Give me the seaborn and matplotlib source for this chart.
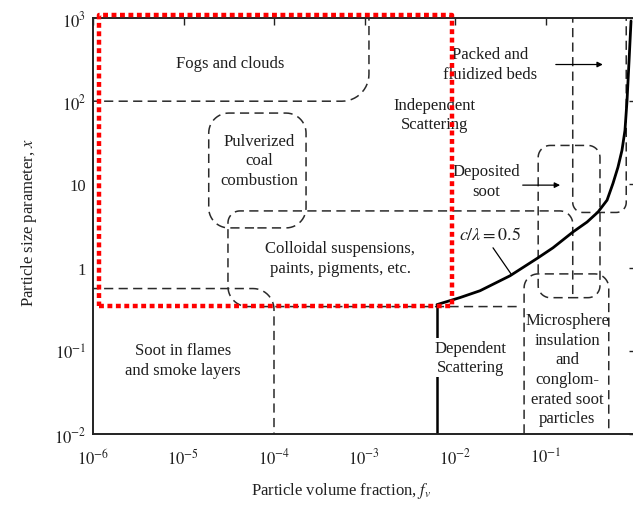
import numpy as np
import matplotlib
matplotlib.use("Agg")
import matplotlib.pyplot as plt
import seaborn as sns

# c/lambda = 0.5 boundary
curve_fv = [0.00632, 0.01135, 0.0189, 0.0406, 0.0826, 0.121, 0.201, 0.288, 0.380,
            0.479, 0.557, 0.632, 0.700, 0.755, 0.796, 0.838, 0.881]
curve_x = [0.359, 0.436, 0.527, 0.798, 1.31, 1.73, 2.68, 3.53, 4.65,
           6.47, 10.3, 16.1, 25.7, 44.5, 102, 306, 920]

# dependent scattering threshold (vertical solid line)
dep_fv = 0.00632
dep_x = [0.359, 0.01]

# dashed regime boundaries
fogs_fv = [1e-7, 1.12e-3, 1.12e-3]
fogs_x = [100, 100, 1e4]
soot_fv = [1e-7, 1e-4, 1e-4]
soot_x = [0.56, 0.56, 1e-3]
colloid_fv = [0.048, 3.1e-5, 3.1e-5, 0.2, 0.2]
colloid_x = [0.34, 0.34, 4.8, 4.8, 0.44]
coal_fv = [1.9e-5, 2.26e-4]
coal_x = [3.0, 72]
deposit_fv = [0.083, 0.40]
deposit_x = [0.435, 29.4]
packed_fv = [0.20, 0.20, 0.78, 0.78]
packed_x = [1e4, 4.6, 4.6, 1e4]
micro_fv = [0.058, 0.058, 0.50, 0.50]
micro_x = [1e-3, 0.84, 0.84, 1e-3]

# highlighted (red dotted) zone
red_fv = [1.16e-6, 9.3e-3]
red_x = [0.343, 1.1e3]

# region labels
labels = ["Fogs and clouds", "Pulverized\ncoal\ncombustion", "Independent\nScattering",
          "Packed and\nfluidized beds", "Deposited\nsoot",
          "Colloidal suspensions,\npaints, pigments, etc.", "Soot in flames\nand smoke layers",
          "Dependent\nScattering",
          "Microsphere\ninsulation\nand\nconglom-\nerated soot\nparticles"]
label_fv = [3.27e-5, 6.8e-5, 0.0060, 0.0244, 0.022, 5.37e-4, 9.9e-6, 0.0147, 0.173]
label_x = [288, 19.5, 69, 282, 10.9, 1.31, 0.077, 0.083, 0.060]

# arrows
packed_arrow_fv = [0.13, 0.43]
packed_arrow_x = 276
deposit_arrow_fv = [0.056, 0.145]
deposit_arrow_x = 9.8
cl_text = (0.0244, 2.47)
cl_pointer_fv = [0.0263, 0.0416]
cl_pointer_x = [1.73, 0.84]

xticks = [1e-6, 1e-5, 1e-4, 1e-3, 1e-2, 1e-1]
xtick_labels = ["$10^{-6}$", "$10^{-5}$", "$10^{-4}$", "$10^{-3}$", "$10^{-2}$", "$10^{-1}$"]
yticks = [1e-2, 1e-1, 1, 10, 1e2, 1e3]
ytick_labels = ["$10^{-2}$", "$10^{-1}$", "1", "10", "$10^{2}$", "$10^{3}$"]

sns.set_theme(style="white")
plt.rcParams["font.family"] = ["Liberation Serif", "DejaVu Serif"]
plt.rcParams["mathtext.fontset"] = "stix"

W, H = 633, 506
fig = plt.figure(figsize=(W / 100, H / 100), dpi=100)
ax = fig.add_axes([93 / W, (H - 435) / H, 543 / W, 416 / H])
ax.set_xscale("log")
ax.set_yscale("log")
ax.set_xlim(1e-6, 1)
ax.set_ylim(1e-2, 1e3)

# px per decade, used for rounding corners evenly
SX = 543 / 6
SY = 416 / 5


def rounded(fv, xs, r, closed=False):
    P = np.column_stack([np.log10(fv) * SX, np.log10(xs) * SY])
    if closed:
        P = np.array([[P[0, 0], P[0, 1]], [P[1, 0], P[0, 1]],
                      [P[1, 0], P[1, 1]], [P[0, 0], P[1, 1]]])
        mid = (P[0] + P[1]) / 2
        P = np.vstack([mid, P[1:], P[:1], mid])
    r = np.broadcast_to(np.asarray(r, float), (len(P) - 2,))
    out = [P[0]]
    phi = np.linspace(0, np.pi / 2, 14)[:, None]
    for i in range(1, len(P) - 1):
        p = P[i]
        da = (P[i - 1] - p) / np.linalg.norm(P[i - 1] - p)
        db = (P[i + 1] - p) / np.linalg.norm(P[i + 1] - p)
        a = p + da * r[i - 1]
        b = p + db * r[i - 1]
        c = a + (b - p)
        out.extend(c + (a - c) * np.cos(phi) + (b - c) * np.sin(phi))
    out.append(P[-1])
    out = np.array(out)
    return 10 ** (out[:, 0] / SX), 10 ** (out[:, 1] / SY)


dash = dict(color="#2a2a2a", lw=1.1, ls=(0, (6, 3.5)))
for f, x, r, closed in [(fogs_fv, fogs_x, 27, False), (soot_fv, soot_x, 21, False),
                        (colloid_fv, colloid_x, [20, 12, 13], False),
                        (coal_fv, coal_x, 20, True), (deposit_fv, deposit_x, 12, True),
                        (packed_fv, packed_x, 10, False), (micro_fv, micro_x, 14, False)]:
    px, py = rounded(f, x, r, closed)
    ax.plot(px, py, **dash)

sns.lineplot(x=curve_fv, y=curve_x, ax=ax, color="black", lw=2.0, sort=False, estimator=None)
ax.plot([dep_fv, dep_fv], dep_x, color="black", lw=1.8)

for t, f, x in zip(labels, label_fv, label_x):
    bbox = dict(fc="white", ec="none", pad=1.5) if t.startswith("Dependent") else None
    ax.text(f, x, t, ha="center", va="center", fontsize=12, linespacing=1.3,
            color="#1e1e1e", bbox=bbox)

arr = dict(arrowstyle="-|>", lw=0.9, color="black", mutation_scale=8, shrinkA=0, shrinkB=0)
ax.annotate("", xy=(packed_arrow_fv[1], packed_arrow_x), xytext=(packed_arrow_fv[0], packed_arrow_x),
            arrowprops=arr)
ax.annotate("", xy=(deposit_arrow_fv[1], deposit_arrow_x), xytext=(deposit_arrow_fv[0], deposit_arrow_x),
            arrowprops=arr)
ax.plot(cl_pointer_fv, cl_pointer_x, color="black", lw=0.9)
ax.text(cl_text[0], cl_text[1], r"$c/\lambda = 0.5$", ha="center", va="center", fontsize=13,
        color="#1e1e1e")

ax.plot([red_fv[0], red_fv[1], red_fv[1], red_fv[0], red_fv[0]],
        [red_x[0], red_x[0], red_x[1], red_x[1], red_x[0]],
        color="red", lw=3.2, ls=(0, (1.1, 0.8)), dash_capstyle="butt", clip_on=False, zorder=10)

ax.set_xticks(xticks, xtick_labels)
ax.set_yticks(yticks, ytick_labels)
ax.minorticks_off()
ax.tick_params(which="major", direction="in", length=5, width=1.0, top=True, right=True,
               labelsize=12, colors="#222222", labelcolor="#222222")
ax.tick_params(axis="x", pad=10)
ax.tick_params(axis="y", pad=5)
for s in ax.spines.values():
    s.set_linewidth(1.4)
    s.set_color("#222222")

ax.set_xlabel(r"Particle volume fraction, $f_v$", fontsize=12, color="#222222")
ax.set_ylabel(r"Particle size parameter, $x$", fontsize=12, color="#222222")
ax.xaxis.set_label_coords(0.457, -0.11)
ax.yaxis.set_label_coords(-0.1, 0.51)

fig.savefig("out.png", dpi=100, facecolor="white")
